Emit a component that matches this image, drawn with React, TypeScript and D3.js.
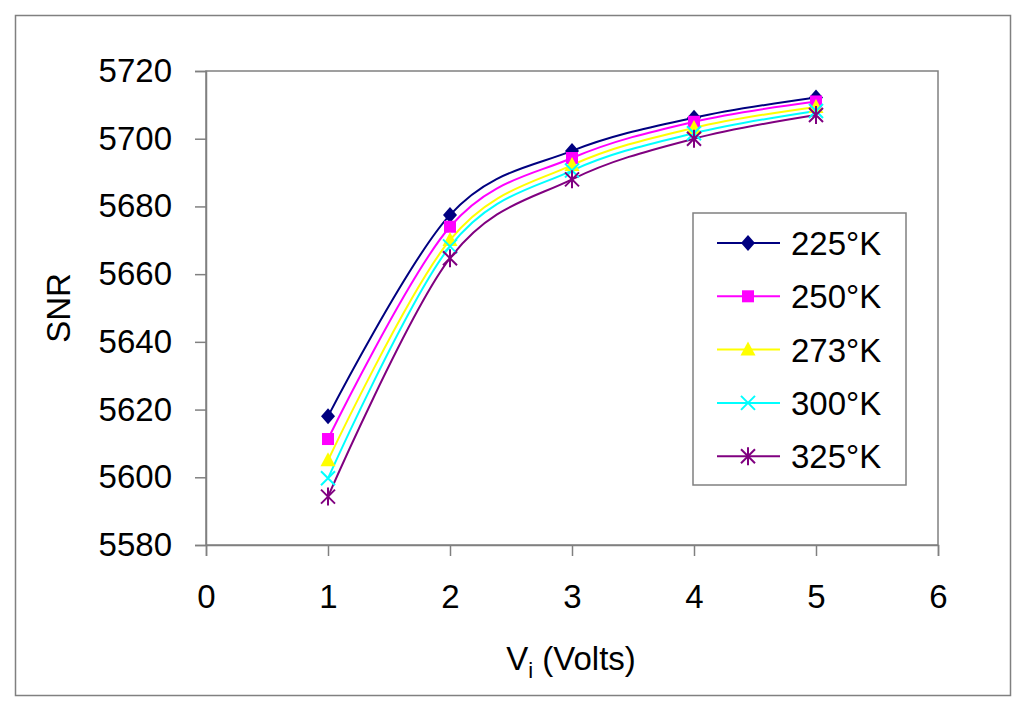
import React, { useRef, useEffect } from 'react';
import * as d3 from 'd3';

// Supply voltage (x) and SNR values for each temperature series
const voltages = [1, 2, 3, 4, 5];
const snr225 = [5618, 5677.5, 5696.4, 5706.2, 5712.2];
const snr250 = [5611.3, 5674, 5694.3, 5705, 5711];
const snr273 = [5605, 5670.1, 5692.2, 5703.2, 5709.4];
const snr300 = [5599.7, 5668.2, 5690.6, 5701.6, 5708.2];
const snr325 = [5594.3, 5664.7, 5688, 5700, 5707];

const seriesNames = ['225°K', '250°K', '273°K', '300°K', '325°K'];
const xTicks = [0, 1, 2, 3, 4, 5, 6];
const yTicks = [5580, 5600, 5620, 5640, 5660, 5680, 5700, 5720];

const App: React.FC = () => {
  const chartRef = useRef<SVGSVGElement | null>(null);

  useEffect(() => {
    if (!chartRef.current) return;
    const svg = d3.select(chartRef.current);
    svg.selectAll('*').remove();

    const W = 1024;
    const H = 712;
    const plot = { left: 206, right: 938, top: 71, bottom: 545 };
    const font = 'Liberation Sans, Arial, sans-serif';
    const fs = 33;

    svg.attr('width', W).attr('height', H);

    // outer chart frame
    svg
      .append('rect')
      .attr('x', 15.5)
      .attr('y', 15.5)
      .attr('width', 995)
      .attr('height', 680)
      .attr('fill', '#fff')
      .attr('stroke', '#808080')
      .attr('stroke-width', 1.5);

    const x = d3.scaleLinear().domain([0, 6]).range([plot.left, plot.right]);
    const y = d3.scaleLinear().domain([5580, 5720]).range([plot.bottom, plot.top]);

    // plot area border
    svg
      .append('rect')
      .attr('x', plot.left)
      .attr('y', plot.top)
      .attr('width', plot.right - plot.left)
      .attr('height', plot.bottom - plot.top)
      .attr('fill', 'none')
      .attr('stroke', '#808080')
      .attr('stroke-width', 1.5);

    // y axis
    const yAxis = svg
      .append('g')
      .attr('transform', `translate(${plot.left},0)`)
      .call(d3.axisLeft(y).tickValues(yTicks).tickSize(11).tickPadding(23).tickFormat(d3.format('d')));
    yAxis.select('.domain').attr('stroke', '#808080').attr('stroke-width', 1.5);
    yAxis.selectAll('.tick line').attr('stroke', '#808080').attr('stroke-width', 1.5);
    yAxis
      .selectAll('.tick text')
      .attr('font-family', font)
      .attr('font-size', fs)
      .attr('fill', '#000');

    // x axis
    const xAxis = svg
      .append('g')
      .attr('transform', `translate(0,${plot.bottom})`)
      .call(d3.axisBottom(x).tickValues(xTicks).tickSize(11).tickPadding(29).tickFormat(d3.format('d')));
    xAxis.select('.domain').attr('stroke', '#808080').attr('stroke-width', 1.5);
    xAxis.selectAll('.tick line').attr('stroke', '#808080').attr('stroke-width', 1.5);
    xAxis
      .selectAll('.tick text')
      .attr('font-family', font)
      .attr('font-size', fs)
      .attr('fill', '#000');

    // axis titles
    svg
      .append('text')
      .attr('transform', `translate(70,${(plot.top + plot.bottom) / 2}) rotate(-90)`)
      .attr('text-anchor', 'middle')
      .attr('font-family', font)
      .attr('font-size', fs)
      .text('SNR');

    const xt = svg
      .append('text')
      .attr('x', 571)
      .attr('y', 670)
      .attr('text-anchor', 'middle')
      .attr('font-family', font)
      .attr('font-size', fs);
    xt.append('tspan').text('V');
    xt.append('tspan').attr('font-size', 22).attr('dy', 8).text('i');
    xt.append('tspan').attr('dy', -8).text(' (Volts)');

    const allSeries = [snr225, snr250, snr273, snr300, snr325];
    const colors = ['#000080', '#FF00FF', '#FFFF00', '#00FFFF', '#800080'];
    const symbols = ['diamond', 'square', 'triangle', 'x', 'star'];

    const drawMarker = (g: any, kind: string, color: string) => {
      if (kind === 'diamond') {
        g.append('path').attr('d', 'M0,-8L7,0L0,8L-7,0Z').attr('fill', color);
      } else if (kind === 'square') {
        g.append('rect').attr('x', -6).attr('y', -6).attr('width', 12).attr('height', 12).attr('fill', color);
      } else if (kind === 'triangle') {
        g.append('path').attr('d', 'M0,-8L7.5,6L-7.5,6Z').attr('fill', color);
      } else if (kind === 'x') {
        g.append('path')
          .attr('d', 'M-7,-7L7,7M-7,7L7,-7')
          .attr('stroke', color)
          .attr('stroke-width', 2);
      } else {
        g.append('path')
          .attr('d', 'M-7,-7L7,7M-7,7L7,-7M0,-9L0,9')
          .attr('stroke', color)
          .attr('stroke-width', 2);
      }
    };

    const line = d3
      .line<number>()
      .x((d, i) => x(voltages[i]))
      .y((d) => y(d))
      .curve(d3.curveCardinal.tension(0));

    allSeries.forEach((vals, si) => {
      svg
        .append('path')
        .datum(vals)
        .attr('d', line)
        .attr('fill', 'none')
        .attr('stroke', colors[si])
        .attr('stroke-width', 2);
    });

    allSeries.forEach((vals, si) => {
      vals.forEach((v, i) => {
        const g = svg.append('g').attr('transform', `translate(${x(voltages[i])},${y(v)})`);
        drawMarker(g, symbols[si], colors[si]);
      });
    });

    // legend
    const legend = svg.append('g');
    legend
      .append('rect')
      .attr('x', 693)
      .attr('y', 213)
      .attr('width', 213)
      .attr('height', 272)
      .attr('fill', '#fff')
      .attr('stroke', '#808080')
      .attr('stroke-width', 1.5);

    seriesNames.forEach((name, si) => {
      const ly = 243 + si * 53.3;
      legend
        .append('line')
        .attr('x1', 717)
        .attr('x2', 780)
        .attr('y1', ly)
        .attr('y2', ly)
        .attr('stroke', colors[si])
        .attr('stroke-width', 2);
      const g = legend.append('g').attr('transform', `translate(748,${ly})`);
      drawMarker(g, symbols[si], colors[si]);
      legend
        .append('text')
        .attr('x', 791)
        .attr('y', ly + 12)
        .attr('font-family', font)
        .attr('font-size', fs)
        .text(name);
    });
  }, []);

  return (
    <svg ref={chartRef} style={{ position: 'absolute', left: 0, top: 0 }}></svg>
  );
};

export default App;
